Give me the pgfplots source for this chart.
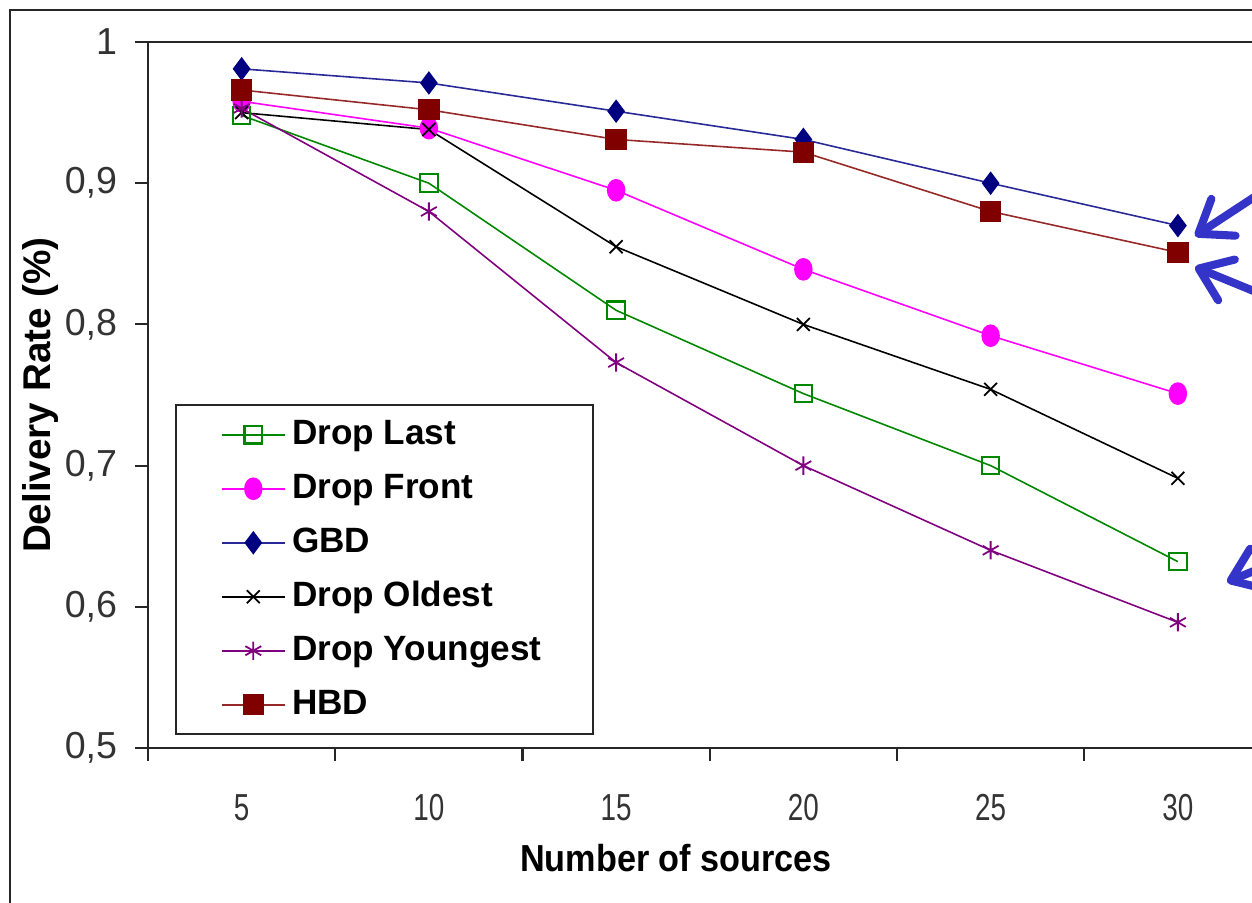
\documentclass[border=0pt]{standalone}
\usepackage{fontspec}
\setmainfont{Liberation Sans}
\newfontfamily\xtickfont[FakeStretch=0.74]{Liberation Sans}
\newfontfamily\xlabfont[FakeStretch=0.91]{Liberation Sans}
\usepackage{pgfplots}
\pgfplotsset{compat=1.18}
\usetikzlibrary{arrows.meta}
\definecolor{dlgreen}{RGB}{0,135,0}
\definecolor{dfmag}{RGB}{255,0,255}
\definecolor{gbdmark}{RGB}{0,0,128}
\definecolor{gbdline}{RGB}{40,40,150}
\definecolor{dypurple}{RGB}{128,0,128}
\definecolor{hbdmark}{RGB}{128,0,0}
\definecolor{hbdline}{RGB}{150,40,40}
\definecolor{arrowblue}{RGB}{52,52,200}
\begin{document}
\begin{tikzpicture}
\begin{axis}[
  at={(14.8mm,-74.8mm)}, anchor=south west,
  scale only axis, width=112.35mm, height=70.6mm,
  xmin=2.5, xmax=32.5, ymin=0.5, ymax=1,
  axis line style={black!85, line width=0.6pt},
  xtick={5,10,15,20,25,30},
  xticklabels={5,10,15,20,25,30},
  minor xtick={2.5,7.5,12.5,17.5,22.5,27.5},
  ytick={0.5,0.6,0.7,0.8,0.9,1},
  yticklabels={{0,5},{0,6},{0,7},{0,8},{0,9},1},
  xtick pos=bottom, ytick pos=left,
  tick align=outside,
  major tick length=1.3mm, minor tick length=1.3mm,
  major x tick style={draw=none},
  every tick/.style={black!85, line width=0.6pt},
  minor tick style={black!85, line width=0.6pt},
  xticklabel style={font=\xtickfont\fontsize{10.7}{12}\selectfont, yshift=-2.1mm, text=black!80},
  yticklabel style={font=\fontsize{10.7}{12}\selectfont, xshift=-0.55mm, text=black!80},
  xlabel={Number of sources},
  ylabel={Delivery Rate (\%)},
  xlabel style={font=\xlabfont\bfseries\fontsize{10.7}{12}\selectfont, at={(axis description cs:0.47,-0.1756)}, anchor=base},
  ylabel style={font=\bfseries\fontsize{11}{12}\selectfont, at={(axis description cs:-0.0961,0.5)}, anchor=center},
  legend cell align=left,
  legend style={at={(axis description cs:0.024,0.487)}, anchor=north west,
    draw=black!85, line width=0.6pt,
    font=\bfseries\fontsize{10}{12}\selectfont,
    nodes={inner xsep=0.65mm, inner ysep=0pt, text height=2.6mm, text depth=0.7mm},
    row sep=2.1mm, inner xsep=4.5mm, inner ysep=1.3mm},
  legend image code/.code={\draw[mark repeat=2,mark phase=2,#1] plot coordinates {(0mm,0mm) (3.15mm,0mm) (6.3mm,0mm)};},
]
\addplot[dlgreen, line width=0.45pt, mark=square, mark size=2.5pt, mark options={line width=0.6pt, fill=white}]
  coordinates {(5,0.948) (10,0.900) (15,0.810) (20,0.751) (25,0.700) (30,0.632)};
\addlegendentry{Drop Last}
\addplot[dfmag, line width=0.45pt, mark=*, mark size=2.4pt, mark options={fill=dfmag, draw=dfmag, yscale=1.25}]
  coordinates {(5,0.958) (10,0.939) (15,0.895) (20,0.839) (25,0.792) (30,0.751)};
\addlegendentry{Drop Front}
\addplot[gbdline, line width=0.45pt, mark=diamond*, mark size=3pt, mark options={fill=gbdmark, draw=gbdmark}]
  coordinates {(5,0.981) (10,0.971) (15,0.951) (20,0.931) (25,0.900) (30,0.870)};
\addlegendentry{GBD}
\addplot[black, line width=0.45pt, mark=x, mark size=2.6pt, mark options={line width=0.5pt}]
  coordinates {(5,0.950) (10,0.938) (15,0.855) (20,0.800) (25,0.754) (30,0.691)};
\addlegendentry{Drop Oldest}
\addplot[dypurple, line width=0.45pt, mark=asterisk, mark size=2.6pt, mark options={line width=0.5pt}]
  coordinates {(5,0.953) (10,0.880) (15,0.773) (20,0.700) (25,0.640) (30,0.589)};
\addlegendentry{Drop Youngest}
\addplot[hbdline, line width=0.45pt, mark=square*, mark size=2.8pt, mark options={fill=hbdmark, draw=hbdmark}]
  coordinates {(5,0.966) (10,0.952) (15,0.931) (20,0.922) (25,0.880) (30,0.851)};
\addlegendentry{HBD}
\end{axis}
\begin{scope}[x=0.1mm, y=-0.1mm]
  \draw[black!85, line width=0.8pt] (10,950) -- (10,10) -- (1300,10);
  \draw[arrowblue, line width=2.3pt, line cap=round, -{Straight Barb[length=3.0mm, width=4.4mm, round]}] (1300,167) -- (1195,236);
  \draw[arrowblue, line width=2.3pt, line cap=round, -{Straight Barb[length=3.0mm, width=4.4mm, round]}] (1300,310) -- (1195,267);
  \draw[arrowblue, line width=2.3pt, line cap=round, -{Straight Barb[length=3.0mm, width=4.4mm, round]}] (1300,552) -- (1227,582);
\end{scope}
\pgfresetboundingbox
\path[use as bounding box] (0,0) rectangle (125.2mm,-90.3mm);
\end{tikzpicture}
\end{document}
